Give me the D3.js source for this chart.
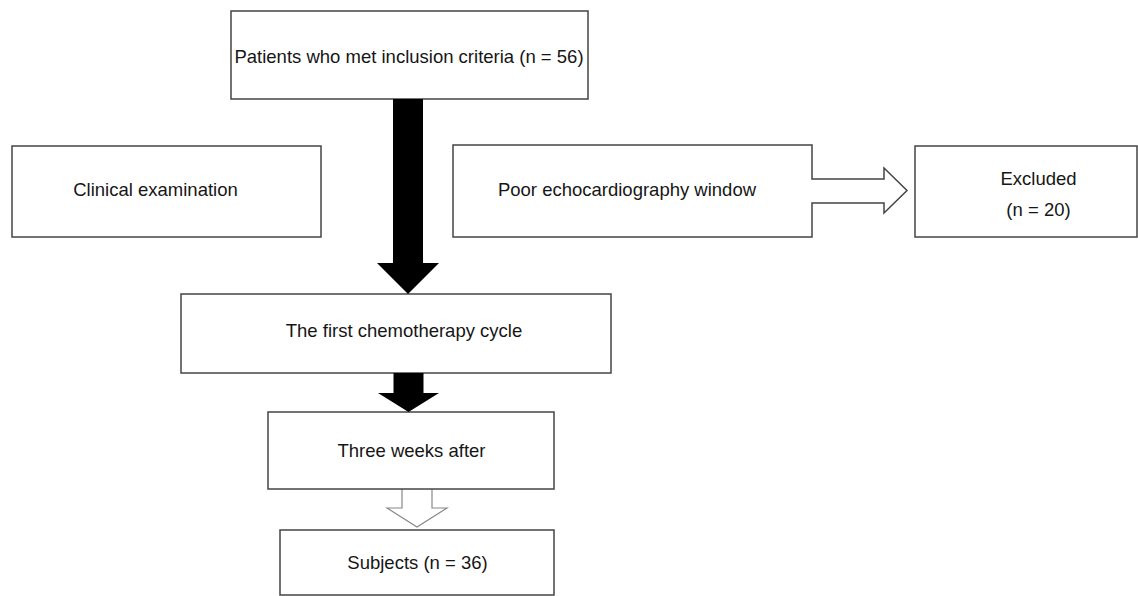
<!DOCTYPE html>
<html>
<head>
<meta charset="utf-8">
<script src="https://cdn.jsdelivr.net/npm/d3@7.9.0/dist/d3.min.js"></script>
<style>
  body { margin: 0; background: #fff; }
  svg { display: block; }
  .label { font-family: "Liberation Sans", Arial, sans-serif; font-size: 18.5px; fill: #161616; }
</style>
</head>
<body>
<svg id="chart" width="1138" height="596"></svg>
<script>
// counts shown in the flow
const nEnrolled = 56;
const nExcluded = 20;
const nSubjects = 36;

// box labels
const mainSteps = [
  `Patients who met inclusion criteria (n = ${nEnrolled})`,
  "The first chemotherapy cycle",
  "Three weeks after",
  `Subjects (n = ${nSubjects})`
];
const sideSteps = ["Clinical examination", "Poor echocardiography window"];
const excludedLines = ["Excluded", `(n = ${nExcluded})`];

// layout (pixels) - boxes: x0, y0, x1, y1, text centre x, text centre y
const mainBoxes = [
  [231, 11, 588, 99, 409, 57],
  [181, 294, 611, 373, 404, 331],
  [268, 412, 554, 489, 411.5, 451],
  [280, 530, 554, 595, 417.5, 563]
];
const clinicalBox = [12, 146, 321, 237, 155.5, 190];
const poorBox = [453, 145, 812, 237, 627, 190];
const excludedBox = [915, 146, 1137, 237, 1038.5, [178.5, 210]];

const svg = d3.select('#chart');
const strokeCol = '#444';

function drawBox(b, lines) {
  svg.append('rect')
    .attr('x', b[0]).attr('y', b[1])
    .attr('width', b[2] - b[0]).attr('height', b[3] - b[1])
    .attr('fill', '#fff')
    .attr('stroke', strokeCol)
    .attr('stroke-width', 1.5);
  const ys = Array.isArray(b[5]) ? b[5] : [b[5]];
  lines.forEach((t, i) => {
    svg.append('text')
      .attr('class', 'label')
      .attr('x', b[4]).attr('y', ys[i])
      .attr('dy', '0.35em')
      .attr('text-anchor', 'middle')
      .text(t);
  });
}

// down arrow as a path: centre x, shaft top, head start, tip, half widths
function downArrow(cx, yTop, yHead, yTip, shaftHalf, headHalf, open) {
  const p = d3.path();
  p.moveTo(cx - shaftHalf, yTop);
  if (open) p.moveTo(cx + shaftHalf, yTop); // leave top edge open
  else p.lineTo(cx + shaftHalf, yTop);
  p.lineTo(cx + shaftHalf, yHead);
  p.lineTo(cx + headHalf, yHead);
  p.lineTo(cx, yTip);
  p.lineTo(cx - headHalf, yHead);
  p.lineTo(cx - shaftHalf, yHead);
  if (open) p.lineTo(cx - shaftHalf, yTop);
  else p.closePath();
  return p.toString();
}

// hollow arrow first so the box border stays on top
svg.append('path')
  .attr('d', downArrow(417, mainBoxes[2][3], 508, 527, 15, 30, true))
  .attr('fill', 'none')
  .attr('stroke', '#888')
  .attr('stroke-width', 1.2);

// boxes
mainBoxes.forEach((b, i) => drawBox(b, [mainSteps[i]]));
drawBox(clinicalBox, [sideSteps[0]]);
drawBox(excludedBox, excludedLines);

// "Poor echocardiography window" box merged with its outgoing arrow
const pb = poorBox;
const pp = d3.path();
pp.moveTo(pb[0], pb[1]);
pp.lineTo(pb[2], pb[1]);
pp.lineTo(pb[2], 179);
pp.lineTo(884, 179);
pp.lineTo(884, 168);
pp.lineTo(907, 190.5);
pp.lineTo(884, 213);
pp.lineTo(884, 203);
pp.lineTo(pb[2], 203);
pp.lineTo(pb[2], pb[3]);
pp.lineTo(pb[0], pb[3]);
pp.closePath();
svg.append('path')
  .attr('d', pp.toString())
  .attr('fill', '#fff')
  .attr('stroke', strokeCol)
  .attr('stroke-width', 1.5)
  .attr('stroke-linejoin', 'miter');
svg.append('text')
  .attr('class', 'label')
  .attr('x', pb[4]).attr('y', pb[5])
  .attr('dy', '0.35em')
  .attr('text-anchor', 'middle')
  .text(sideSteps[1]);

// solid arrows
svg.append('path')
  .attr('d', downArrow(408, mainBoxes[0][3], 263, mainBoxes[1][1], 15, 31))
  .attr('fill', '#000');
svg.append('path')
  .attr('d', downArrow(408.5, mainBoxes[1][3], 393, mainBoxes[2][1], 15, 30.5))
  .attr('fill', '#000');
</script>
</body>
</html>
